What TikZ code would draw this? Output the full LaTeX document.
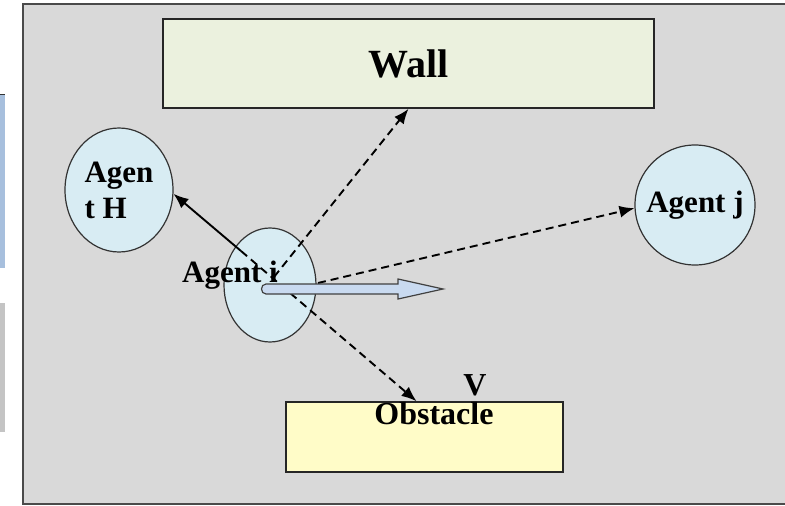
\documentclass[tikz,border=0pt]{standalone}
\usepackage{fontspec}
\setmainfont{Liberation Serif}
\usetikzlibrary{arrows.meta,shapes.geometric,calc,positioning}

\definecolor{pagegray}{HTML}{D9D9D9}
\definecolor{framegray}{HTML}{4A4A4A}
\definecolor{agentblue}{HTML}{D8ECF3}
\definecolor{wallgreen}{HTML}{EBF1DE}
\definecolor{obstyellow}{HTML}{FFFCC8}
\definecolor{arrowblue}{HTML}{C9DAF0}
\definecolor{paneblue}{HTML}{A7BFDD}
\definecolor{panegray}{HTML}{C4C4C4}

\begin{document}
\begin{tikzpicture}[x=1pt,y=-1pt,>={Latex[length=15pt,width=12pt]},line width=1.9pt,
	agent/.style={ellipse,draw=black!80,line width=1.2pt,fill=agentblue,inner sep=-25pt,font=\fontsize{31}{36}\selectfont\bfseries},
	block/.style={rectangle,draw=black!85,line width=1.6pt,inner sep=0pt},
	tag/.style={anchor=base,inner sep=0pt,font=\fontsize{31}{36}\selectfont\bfseries},
	ray/.style={->,dash pattern=on 8pt off 5pt}]
		\useasboundingbox (0,0) rectangle (785,506);
		\fill[paneblue] (0,94) rectangle (5,268);
		\draw[black!80,line width=1pt] (0,94) -- (5,94);
		\fill[panegray] (0,303) rectangle (5,432);
		\draw[draw=framegray,line width=2pt,fill=pagegray] (23,4) rectangle (800,504);

		\node[block,fill=wallgreen,minimum width=491pt,minimum height=89pt,font=\fontsize{40}{44}\selectfont\bfseries] (wall) at (408.5,63.5) {Wall};
		\node[block,fill=obstyellow,minimum width=277pt,minimum height=70pt] (obstacle) at (424.5,437) {};
		\node[agent,minimum width=108pt,minimum height=124pt,align=left] (agentH) at (119,190) {Agen\\t H};
		\node[agent,minimum width=92pt,minimum height=114pt] (agenti) at (270,285) {};
		\node[agent,minimum width=120pt,minimum height=120pt] (agentj) at (695,205) {Agent j};

		\coordinate (pivot) at (241,251);
		\coordinate (hub) at (274,277);
		\coordinate (jstart) at (318,283);

		\path[ray]
			(pivot) edge ([xshift=-8pt]obstacle.north)
			(hub) edge (wall.south)
			(jstart) edge (agentj.183);
		\draw[->] (pivot) -- (agentH.-4);

		\draw[fill=arrowblue,draw=black!75,line width=1.2pt] (266,284) -- (398,284) -- (398,279) -- (443,289) -- (398,299) -- (398,294) -- (266,294) .. controls (260,294) and (260,284) .. cycle;

		\node[tag] (labeli) at (230,282) {Agent i};
		\node[tag,font=\fontsize{32}{36}\selectfont\bfseries] (obstlabel) at (434,424) {Obstacle};
		\node[tag,font=\fontsize{32}{36}\selectfont\bfseries] (vlabel) at (475,395) {V};
	\end{tikzpicture}
\end{document}
